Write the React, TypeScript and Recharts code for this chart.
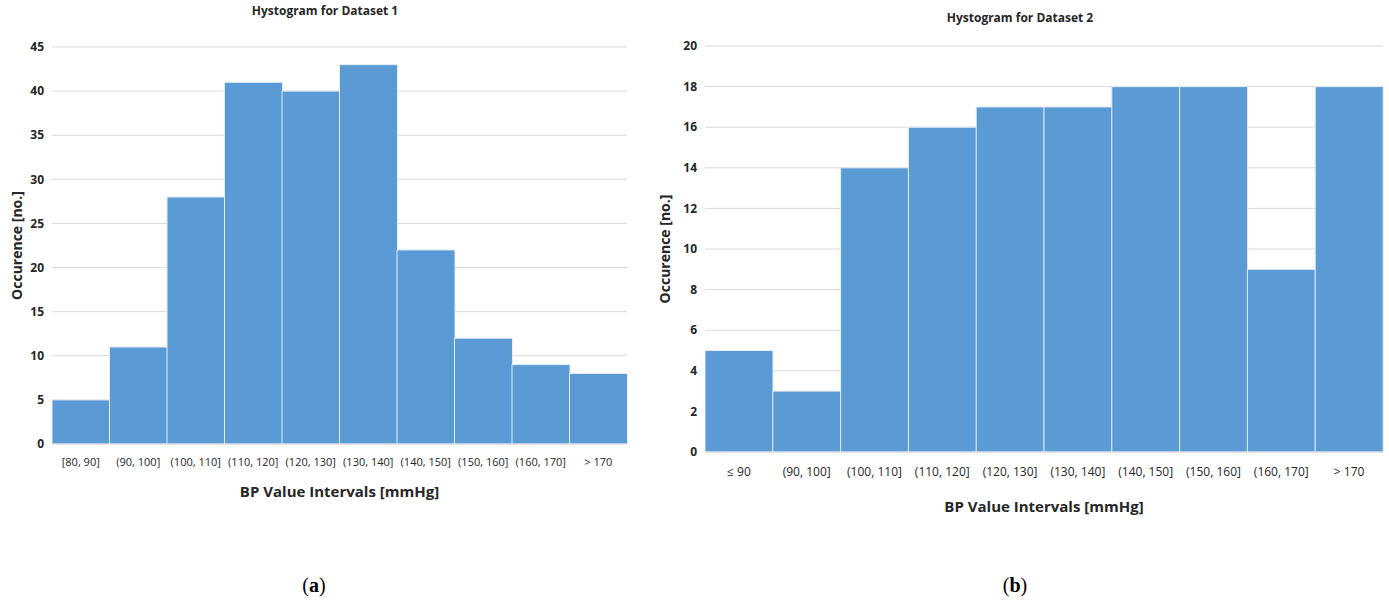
import { BarChart, Bar, XAxis, YAxis, CartesianGrid, Label } from 'recharts'

// Dataset 1 (a)
const intervals1 = ['[80, 90]', '(90, 100]', '(100, 110]', '(110, 120]', '(120, 130]', '(130, 140]', '(140, 150]', '(150, 160]', '(160, 170]', '> 170']
const counts1 = [5, 11, 28, 41, 40, 43, 22, 12, 9, 8]
const ticks1 = [0, 5, 10, 15, 20, 25, 30, 35, 40, 45]

// Dataset 2 (b)
const intervals2 = ['≤ 90', '(90, 100]', '(100, 110]', '(110, 120]', '(120, 130]', '(130, 140]', '(140, 150]', '(150, 160]', '(160, 170]', '> 170']
const counts2 = [5, 3, 14, 16, 17, 17, 18, 18, 9, 18]
const ticks2 = [0, 2, 4, 6, 8, 10, 12, 14, 16, 18, 20]

const FONT = '"Liberation Sans Narrow", "Open Sans", sans-serif'
const BAR_COLOR = '#5B9BD5'
const GRID_COLOR = '#d9d9d9'
const TEXT_COLOR = '#262626'

const data1 = intervals1.map((name, i) => ({ name, value: counts1[i] }))
const data2 = intervals2.map((name, i) => ({ name, value: counts2[i] }))

interface HistProps {
  data: { name: string; value: number }[]
  ticks: number[]
  width: number
  height: number
  margin: { top: number; right: number; left: number; bottom: number }
  yAxisWidth: number
  xAxisHeight: number
  xTickSize: number
  xTickMargin: number
  yLabelOffset: number
  xLabelOffset: number
}

function Histogram({ data, ticks, width, height, margin, yAxisWidth, xAxisHeight, xTickSize, xTickMargin, yLabelOffset, xLabelOffset }: HistProps) {
  return (
    <BarChart width={width} height={height} data={data} margin={margin} barCategoryGap={0}>
      <CartesianGrid stroke={GRID_COLOR} vertical={false} />
      <XAxis
        dataKey="name"
        interval={0}
        tickLine={false}
        tickSize={0}
        tickMargin={xTickMargin}
        height={xAxisHeight}
        axisLine={{ stroke: GRID_COLOR }}
        tick={{ fill: TEXT_COLOR, fontSize: xTickSize, fontFamily: FONT }}
      >
        <Label
          value="BP Value Intervals [mmHg]"
          position="insideBottom"
          offset={xLabelOffset}
          style={{ fill: TEXT_COLOR, fontSize: 15, fontWeight: 700, fontFamily: FONT }}
        />
      </XAxis>
      <YAxis
        domain={[0, ticks[ticks.length - 1]]}
        ticks={ticks}
        interval={0}
        width={yAxisWidth}
        axisLine={false}
        tickLine={false}
        tick={{ fill: TEXT_COLOR, fontSize: 12, fontWeight: 700, fontFamily: FONT }}
      >
        <Label
          value="Occurence [no.]"
          angle={-90}
          position="insideLeft"
          offset={yLabelOffset}
          style={{ textAnchor: 'middle', fill: TEXT_COLOR, fontSize: 14, fontWeight: 700, fontFamily: FONT }}
        />
      </YAxis>
      <Bar dataKey="value" fill={BAR_COLOR} stroke="#e6edf6" strokeWidth={1} isAnimationActive={false} />
    </BarChart>
  )
}

const titleStyle: React.CSSProperties = {
  position: 'absolute',
  fontFamily: FONT,
  fontWeight: 700,
  fontSize: 12,
  color: TEXT_COLOR,
  transform: 'translate(-50%, -50%)',
  whiteSpace: 'nowrap',
}

const captionStyle: React.CSSProperties = {
  position: 'absolute',
  fontFamily: '"Liberation Serif", "DejaVu Serif", serif',
  fontSize: 20,
  color: '#000',
  transform: 'translate(-50%, -50%)',
}

export default function App() {
  return (
    <div style={{ position: 'absolute', left: 0, top: 0, width: 1389, height: 603, background: '#fff', overflow: 'hidden' }}>
      <div style={{ ...titleStyle, left: 325, top: 10 }}>Hystogram for Dataset 1</div>
      <div style={{ ...titleStyle, left: 1020, top: 17 }}>Hystogram for Dataset 2</div>

      <div style={{ position: 'absolute', left: 0, top: 0 }}>
        <Histogram
          data={data1}
          ticks={ticks1}
          width={640}
          height={520}
          margin={{ top: 47, right: 13, left: 10, bottom: 20 }}
          yAxisWidth={42}
          xAxisHeight={56}
          xTickSize={11}
          xTickMargin={14}
          yLabelOffset={7}
          xLabelOffset={3}
        />
      </div>

      <div style={{ position: 'absolute', left: 645, top: 0 }}>
        <Histogram
          data={data2}
          ticks={ticks2}
          width={744}
          height={530}
          margin={{ top: 46, right: 6, left: 13, bottom: 20 }}
          yAxisWidth={47}
          xAxisHeight={58}
          xTickSize={12}
          xTickMargin={15}
          yLabelOffset={7}
          xLabelOffset={-2}
        />
      </div>

      <div style={captionStyle as React.CSSProperties}>
        <span style={{ position: 'absolute', left: 314, top: 585, transform: 'translate(-50%, -50%)' }}>
          (<b>a</b>)
        </span>
        <span style={{ position: 'absolute', left: 1015, top: 585, transform: 'translate(-50%, -50%)' }}>
          (<b>b</b>)
        </span>
      </div>
    </div>
  )
}
